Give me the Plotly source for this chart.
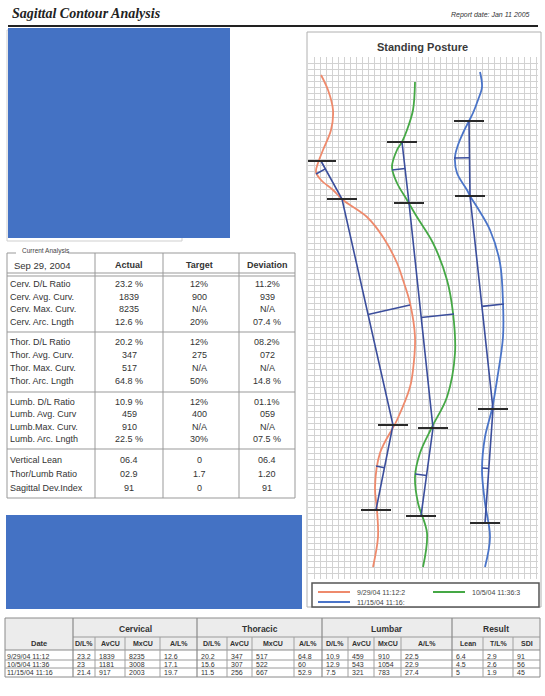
import plotly.graph_objects as go

W, H = 545, 696

# ---------------- Spine contours (chart units) ----------------
series_names = ["9/29/04 11:12:2", "10/5/04 11:36:3", "11/15/04 11:16:"]
series_colors = ["#EE8A6C", "#45A845", "#4A74C8"]

curve_x_0929 = [321, 328, 333, 331, 323, 318, 316, 321, 333, 343, 367, 383, 397, 403, 410, 415, 413, 410, 397, 380, 375, 377, 378, 373]
curve_y_0929 = [75, 90, 110, 130, 150, 163, 172, 180, 190, 200, 217, 237, 263, 280, 303, 337, 370, 387, 420, 453, 487, 510, 537, 567]

curve_x_1005 = [415, 413, 407, 402, 397, 392, 397, 407, 417, 433, 447, 453, 455, 447, 432, 420, 415, 418, 427, 423]
curve_y_1005 = [82, 110, 130, 142, 150, 167, 183, 200, 217, 243, 280, 313, 353, 397, 427, 453, 477, 503, 533, 567]

curve_x_1115 = [480, 482, 478, 473, 469, 463, 458, 455, 457, 467, 470, 477, 490, 500, 503, 503, 497, 492, 485, 482, 485, 490, 485]
curve_y_1115 = [72, 87, 100, 113, 121, 133, 145, 157, 173, 190, 196, 207, 230, 263, 303, 337, 380, 409, 437, 470, 503, 537, 567]

# landmark levels (top of cervical, C/T, T/L, bottom of lumbar)
level_x_0929 = [321, 342, 393, 376]
level_y_0929 = [161, 199, 425, 510]
level_x_1005 = [402, 409, 433, 421]
level_y_1005 = [142, 203, 428, 516]
level_x_1115 = [469, 470, 493, 485]
level_y_1115 = [121, 196, 409, 523]

# apex of each region's curvature
apex_x_0929 = [316, 410, 376]
apex_y_0929 = [174, 305, 466]
apex_x_1005 = [392, 454, 415]
apex_y_1005 = [170, 314, 474]
apex_x_1115 = [454, 504, 482]
apex_y_1115 = [158, 304, 468]

# ---------------- Current analysis table ----------------
cerv_labels = ["Cerv. D/L Ratio", "Cerv. Avg. Curv.", "Cerv. Max. Curv.", "Cerv. Arc. Lngth"]
cerv_actual = ["23.2 %", "1839", "8235", "12.6 %"]
cerv_target = ["12%", "900", "N/A", "20%"]
cerv_dev = ["11.2%", "939", "N/A", "07.4 %"]
thor_labels = ["Thor. D/L Ratio", "Thor. Avg. Curv.", "Thor. Max. Curv.", "Thor. Arc. Lngth"]
thor_actual = ["20.2 %", "347", "517", "64.8 %"]
thor_target = ["12%", "275", "N/A", "50%"]
thor_dev = ["08.2%", "072", "N/A", "14.8 %"]
lumb_labels = ["Lumb. D/L Ratio", "Lumb. Avg. Curv", "Lumb.Max. Curv.", "Lumb. Arc. Lngth"]
lumb_actual = ["10.9 %", "459", "910", "22.5 %"]
lumb_target = ["12%", "400", "N/A", "30%"]
lumb_dev = ["01.1%", "059", "N/A", "07.5 %"]
glob_labels = ["Vertical Lean", "Thor/Lumb Ratio", "Sagittal Dev.Index"]
glob_actual = ["06.4", "02.9", "91"]
glob_target = ["0", "1.7", "0"]
glob_dev = ["06.4", "1.20", "91"]

# ---------------- History table ----------------
hist_dates = ["9/29/04 11:12", "10/5/04 11:36", "11/15/04 11:16"]
cerv_dl = [23.2, 23, 21.4]
cerv_avcu = [1839, 1181, 917]
cerv_mxcu = [8235, 3008, 2003]
cerv_al = [12.6, 17.1, 19.7]
thor_dl = [20.2, 15.6, 11.5]
thor_avcu = [347, 307, 256]
thor_mxcu = [517, 522, 667]
thor_al = [64.8, 60, 52.9]
lumb_dl = [10.9, 12.9, 7.5]
lumb_avcu = [459, 543, 321]
lumb_mxcu = [910, 1054, 783]
lumb_al = [22.5, 22.9, 27.4]
res_lean = [6.4, 4.5, 5]
res_tl = [2.9, 2.6, 1.9]
res_sdi = [91, 56, 45]

FONT = "Liberation Sans"
TXT = "#333333"
NAVY = "#3B4E9C"

fig = go.Figure()
shapes = []
annots = []


def px(x):
    return x / W


def py(y):
    return 1 - y / H


def text(x, y, s, size=9, bold=False, anchor="left", color=TXT, family=FONT, italic=False):
    if bold:
        s = f"<b>{s}</b>"
    if italic:
        s = f"<i>{s}</i>"
    annots.append(dict(x=px(x), y=py(y), xref="paper", yref="paper", text=s, showarrow=False,
                       xanchor=anchor, yanchor="middle", borderpad=0,
                       font=dict(size=size, color=color, family=family)))


def line(x0, y0, x1, y1, color="#999999", width=1, layer="above"):
    shapes.append(dict(type="line", xref="paper", yref="paper", x0=px(x0), y0=py(y0), x1=px(x1), y1=py(y1),
                       line=dict(color=color, width=width), layer=layer))


def rect(x0, y0, x1, y1, color="#999999", width=1, fill=None, layer="above"):
    d = dict(type="rect", xref="paper", yref="paper", x0=px(x0), y0=py(y0), x1=px(x1), y1=py(y1),
             line=dict(color=color, width=width), layer=layer)
    if fill:
        d["fillcolor"] = fill
    if width == 0:
        d["line"] = dict(width=0)
    shapes.append(d)


# ---------------- Contour plot ----------------
curves = [(curve_x_0929, curve_y_0929), (curve_x_1005, curve_y_1005), (curve_x_1115, curve_y_1115)]
levels = [(level_x_0929, level_y_0929), (level_x_1005, level_y_1005), (level_x_1115, level_y_1115)]
apexes = [(apex_x_0929, apex_y_0929), (apex_x_1005, apex_y_1005), (apex_x_1115, apex_y_1115)]

for (cx, cy), name, col in zip(curves, series_names, series_colors):
    fig.add_trace(go.Scatter(x=cx, y=cy, mode="lines", name=name, line=dict(color=col, width=1.8, shape="spline"),
                             showlegend=False, hoverinfo="skip"))

for (lx, ly), (ax, ay) in zip(levels, apexes):
    # chords between consecutive levels
    fig.add_trace(go.Scatter(x=lx, y=ly, mode="lines", line=dict(color=NAVY, width=1.6),
                             showlegend=False, hoverinfo="skip"))
    # perpendiculars from each apex to its chord
    px_, py_ = [], []
    for i in range(3):
        x0, y0, x1, y1 = lx[i], ly[i], lx[i + 1], ly[i + 1]
        dx, dy = x1 - x0, y1 - y0
        t = ((ax[i] - x0) * dx + (ay[i] - y0) * dy) / (dx * dx + dy * dy)
        px_ += [ax[i], x0 + t * dx, None]
        py_ += [ay[i], y0 + t * dy, None]
    fig.add_trace(go.Scatter(x=px_, y=py_, mode="lines", line=dict(color=NAVY, width=1.6),
                             showlegend=False, hoverinfo="skip"))
    # level markers
    bx, by = [], []
    for x, y in zip(lx, ly):
        bx += [x - 15, x + 15, None]
        by += [y, y, None]
    fig.add_trace(go.Scatter(x=bx, y=by, mode="lines", line=dict(color="#2a2a2a", width=2),
                             showlegend=False, hoverinfo="skip"))

# panel frame and title
rect(307, 32, 541, 607, color="#b0b0b0", width=1, layer="below")
text(422, 47, "Standing Posture", size=11, bold=True, anchor="center", color="#3a3a3a")

# legend box
rect(312, 583, 539, 607, color="#555555", width=1.5, fill="white", layer="above")
leg_pos = [(318, 592), (433, 592), (318, 602)]
for (lx0, ly0), name, col in zip(leg_pos, series_names, series_colors):
    line(lx0, ly0, lx0 + 32, ly0, color=col, width=2)
    text(lx0 + 38, ly0, name, size=7, color="#444444")

# ---------------- Header ----------------
text(11, 14, "Sagittal Contour Analysis", size=14, bold=True, italic=True, family="Liberation Serif", color="#222222")
text(531, 15, "Report date: Jan 11 2005", size=7, italic=True, anchor="right", color="#333333")
line(8, 26, 538, 26, color="#222222", width=2)

# faint frame behind the upper block
rect(7, 30, 182, 241, color="#cfcfcf", width=1, layer="below")

# ---------------- Current analysis table ----------------
TL, TR, TT, TB = 7, 295, 253, 498
col_x = [95, 163, 239]
line(TL, TT, 16, TT)
line(68, TT, TR, TT)
line(TL, TT, TL, TB)
line(TR, TT, TR, TB)
line(TL, TB, TR, TB)
for cx in col_x:
    line(cx, TT, cx, TB)
line(TL, 273, TR, 273)
line(TL, 276, TR, 276)
for sy in [332, 392, 449]:
    line(TL, sy, TR, sy)
text(21, 251, "Current Analysis", size=6.5, color="#444444")
text(13, 265, "Sep 29, 2004", size=9.5)
text(129, 265, "Actual", size=9, bold=True, anchor="center")
text(199, 265, "Target", size=9, bold=True, anchor="center")
text(267, 265, "Deviation", size=9, bold=True, anchor="center")

sections = [
    (cerv_labels, cerv_actual, cerv_target, cerv_dev, 284, 12.7),
    (thor_labels, thor_actual, thor_target, thor_dev, 342, 13.0),
    (lumb_labels, lumb_actual, lumb_target, lumb_dev, 402, 12.4),
    (glob_labels, glob_actual, glob_target, glob_dev, 460, 14.0),
]
for labels, act, tgt, dev, y0, step in sections:
    for i, (lab, a, t, d) in enumerate(zip(labels, act, tgt, dev)):
        y = y0 + i * step
        text(9, y, lab, size=9)
        text(129, y, a, size=9, anchor="center")
        text(199, y, t, size=9, anchor="center")
        text(267, y, d, size=9, anchor="center")

# ---------------- History table ----------------
BL, BR, BT, BB = 5, 540, 618, 677
rect(BL, BT, BR, 650, width=0, fill="#ececec", layer="below")
rect(BL, BT, BR, BB, color="#8a8a8a", width=1)
line(73, 637, BR, 637, color="#9a9a9a")
line(BL, 650, BR, 650, color="#8a8a8a")
for ry in [660, 668]:
    line(BL, ry, BR, ry, color="#9a9a9a")

group_edges = [73, 197, 322, 452, BR]
group_names = ["Cervical", "Thoracic", "Lumbar", "Result"]
inner_edges = [[73, 95, 125, 160, 197], [197, 227, 252, 294, 322], [322, 348, 374, 401, 452], [452, 483, 513, BR]]
sub_names = [["D/L%", "AvCU", "MxCU", "A/L%"], ["D/L%", "AvCU", "MxCU", "A/L%"],
             ["D/L%", "AvCU", "MxCU", "A/L%"], ["Lean", "T/L%", "SDI"]]
group_data = [[cerv_dl, cerv_avcu, cerv_mxcu, cerv_al], [thor_dl, thor_avcu, thor_mxcu, thor_al],
              [lumb_dl, lumb_avcu, lumb_mxcu, lumb_al], [res_lean, res_tl, res_sdi]]

for gx in group_edges[:-1]:
    line(gx, BT, gx, BB, color="#8a8a8a", width=1.2)
text(39, 643, "Date", size=7.5, bold=True, anchor="center")
row_y = [656, 664, 672]
for yy, d in zip(row_y, hist_dates):
    text(6, yy, d, size=7)

for g in range(4):
    edges = inner_edges[g]
    text((group_edges[g] + group_edges[g + 1]) / 2, 629, group_names[g], size=8.5, bold=True, anchor="center")
    for c in range(len(sub_names[g])):
        x0, x1 = edges[c], edges[c + 1]
        if c > 0:
            line(x0, 637, x0, BB, color="#a0a0a0")
        text((x0 + x1) / 2, 643, sub_names[g][c], size=7, bold=True, anchor="center")
        for yy, v in zip(row_y, group_data[g][c]):
            text(x0 + 2.5, yy, f"{v:g}", size=7)

# ---------------- Masked blocks ----------------
rect(8, 28, 230, 238, width=0, fill="#4472C4")
rect(6, 515, 302, 609, width=0, fill="#4472C4")

fig.update_layout(
    width=W, height=H, margin=dict(l=0, r=0, t=0, b=0),
    paper_bgcolor="white", plot_bgcolor="white", showlegend=False,
    xaxis=dict(domain=[308 / W, 538 / W], range=[308, 538], showgrid=True, gridcolor="#d2d2d2", gridwidth=1,
               tick0=308, dtick=6, showticklabels=False, zeroline=False, ticks="", fixedrange=True),
    yaxis=dict(domain=[1 - 579 / H, 1 - 57 / H], range=[579, 57], showgrid=True, gridcolor="#d2d2d2", gridwidth=1,
               tick0=57, dtick=6, showticklabels=False, zeroline=False, ticks="", fixedrange=True),
    shapes=shapes, annotations=annots,
)

fig.write_html("out.html")
